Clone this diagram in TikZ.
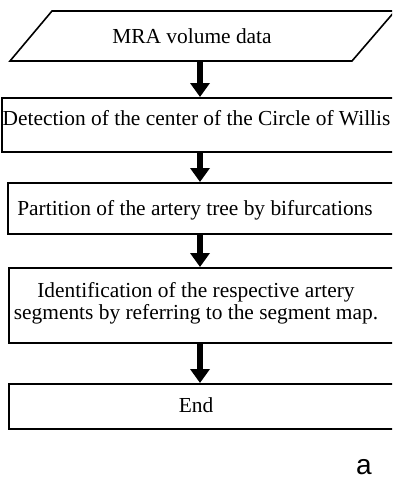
\documentclass[tikz,border=0pt]{standalone}
\usepackage{fontspec}
\setmainfont{Liberation Serif}
\newfontfamily\labelfont{Liberation Sans}
\usetikzlibrary{arrows.meta}
\begin{document}
\begin{tikzpicture}[x=1pt,y=-1pt,
  boxshape/.style={draw,line width=1.6pt,rectangle,anchor=north west,minimum width=440pt,inner sep=0pt},
  txt/.style={font=\fontsize{21.4}{22.5}\selectfont,inner sep=0pt,anchor=base,align=center},
  flowarrow/.style={line width=6pt,-{Triangle[width=19pt,length=14pt]},shorten >=0pt}]
\useasboundingbox (0,0) rectangle (392,479);
\clip (0,0) rectangle (392,479);
% input parallelogram
\draw[line width=1.6pt,line join=miter] (52,11) -- (395,11) -- (352,61) -- (10,61) -- cycle;
\node[txt] (t1) at (192,43) {MRA volume data};
\coordinate (p1) at (200,61);
% boxes
\node[boxshape,minimum height=54pt] (b2) at (1,97) {};
\node[boxshape,minimum height=51pt] (b3) at (7,182) {};
\node[boxshape,minimum height=75pt] (b4) at (8,267) {};
\node[boxshape,minimum height=45pt] (b5) at (8,383) {};
% texts
\node[txt] (t2) at (196.5,125) {Detection of the center of the Circle of Willis};
\node[txt] (t3) at (195,215) {Partition of the artery tree by bifurcations};
\node[txt,anchor=north] (t4) at (196,282) {Identification of the respective artery\\segments by referring to the segment map.};
\node[txt] (t5) at (196,412) {End};
\node[font=\labelfont\fontsize{28}{30}\selectfont,inner sep=0pt,anchor=base] (lab) at (364,474) {a};
% arrows
\draw[flowarrow] (p1) -- (p1 |- b2.north);
\draw[flowarrow] (p1 |- b2.south) -- (p1 |- b3.north);
\draw[flowarrow] (p1 |- b3.south) -- (p1 |- b4.north);
\draw[flowarrow] (p1 |- b4.south) -- (p1 |- b5.north);
\end{tikzpicture}
\end{document}
